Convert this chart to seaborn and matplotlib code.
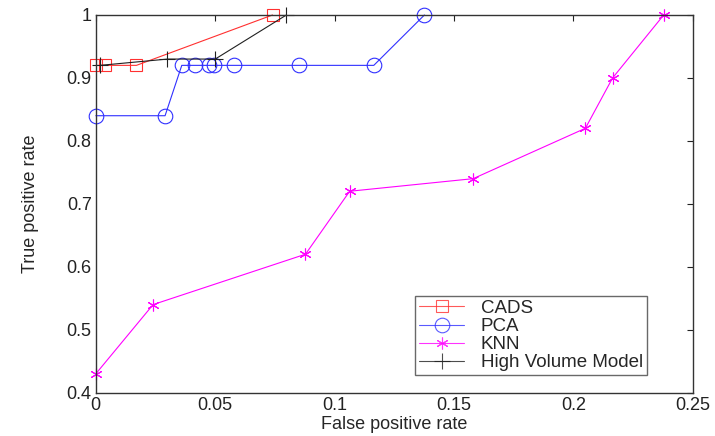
import matplotlib
matplotlib.use("Agg")
import matplotlib.pyplot as plt
import seaborn as sns
import pandas as pd
from matplotlib.ticker import FuncFormatter

# ---- data ----
cads_fpr = [0.0, 0.004, 0.017, 0.074]
cads_tpr = [0.92, 0.92, 0.92, 1.0]

pca_fpr = [0.0, 0.029, 0.036, 0.0416, 0.0472, 0.0493, 0.0577, 0.085, 0.1164, 0.1376]
pca_tpr = [0.84, 0.84, 0.92, 0.92, 0.92, 0.92, 0.92, 0.92, 0.92, 1.0]

knn_fpr = [0.0, 0.024, 0.0878, 0.1063, 0.158, 0.205, 0.2164, 0.2378]
knn_tpr = [0.43, 0.54, 0.62, 0.72, 0.74, 0.82, 0.90, 1.0]

hvm_fpr = [0.0018, 0.030, 0.050, 0.0798]
hvm_tpr = [0.92, 0.93, 0.93, 1.0]

series_names = ["CADS", "PCA", "KNN", "High Volume Model"]
x_ticks = [0, 0.05, 0.1, 0.15, 0.2, 0.25]
y_ticks = [0.4, 0.5, 0.6, 0.7, 0.8, 0.9, 1.0]

sns.set_style("white")
plt.rcParams["font.family"] = ["Liberation Sans", "DejaVu Sans"]

fig = plt.figure(figsize=(7.15, 4.36), dpi=100)
ax = fig.add_axes([0.134, 0.0993, 0.835, 0.8663])

styles = [
    dict(color="#ff3030", marker="s", markersize=9),
    dict(color="#3030ff", marker="o", markersize=10.5),
    dict(color="#ff00ff", marker=(6, 2, 0), markersize=8.5),
    dict(color="#202020", marker="+", markersize=11),
]
data = [(cads_fpr, cads_tpr), (pca_fpr, pca_tpr), (knn_fpr, knn_tpr), (hvm_fpr, hvm_tpr)]

for name, (xs, ys), st in zip(series_names, data, styles):
    df = pd.DataFrame({"fpr": xs, "tpr": ys})
    sns.lineplot(data=df, x="fpr", y="tpr", ax=ax, estimator=None, sort=False,
                 label=name, color=st["color"], marker=st["marker"],
                 markersize=st["markersize"], markerfacecolor="none",
                 markeredgecolor=st["color"], markeredgewidth=0.8,
                 linewidth=0.8, clip_on=False)

ax.set_xlim(0, 0.25)
ax.set_ylim(0.4, 1.0)
ax.set_xticks(x_ticks)
ax.set_yticks(y_ticks)
fmt = FuncFormatter(lambda v, p: f"{v:g}")
ax.xaxis.set_major_formatter(fmt)
ax.yaxis.set_major_formatter(fmt)
ax.tick_params(direction="in", top=True, right=True, length=4, width=0.8,
               labelsize=13, colors="#222222", pad=3)
for sp in ax.spines.values():
    sp.set_color("#333333")
    sp.set_linewidth(1.0)

ax.set_xlabel("False positive rate", fontsize=13, labelpad=1.5)
ax.set_ylabel("True positive rate", fontsize=13, labelpad=20)

leg = ax.legend(loc="lower right", bbox_to_anchor=(0.923, 0.047), fontsize=13.5,
                frameon=True, fancybox=False, edgecolor="#444444",
                borderpad=0.2, labelspacing=0.05, handlelength=2.4,
                handletextpad=0.9, borderaxespad=0)
leg.get_frame().set_linewidth(1.0)
for h in leg.get_lines():
    h.set_alpha(0.8)

fig.savefig("out.png", dpi=100)
